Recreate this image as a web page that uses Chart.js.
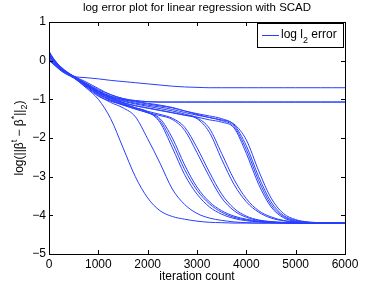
<!DOCTYPE html>
<html lang="en">
  <head>
    <meta charset="UTF-8">
    <title>log error plot</title>
    <script src="https://cdn.jsdelivr.net/npm/chart.js@4.3.0/dist/chart.umd.min.js"></script>
    <style>
      body { margin: 0; background: #fff; }
      #box { width: 382px; height: 286px; }
    </style>
  </head>
  <body>
<div id="box"><canvas id="errPlot"></canvas></div>
<script>
var iters = [0,100,250,500,750,1000,1250,1500,1750,2000,2250,2500,2750,3000,3250,3500,3750,4000,4250,4500,4750,5000,5250,5500,5750,6000];

// log l2 error curves, one per run
var runA  = [0.12,-0.02,-0.2,-0.4,-0.44,-0.47,-0.51,-0.54,-0.57,-0.6,-0.63,-0.66,-0.68,-0.69,-0.7,-0.7,-0.7,-0.7,-0.7,-0.7,-0.7,-0.7,-0.7,-0.7,-0.7,-0.7];
var runB1 = [0.2,0.02,-0.18,-0.42,-0.6,-0.78,-0.92,-1.0,-1.04,-1.06,-1.07,-1.07,-1.07,-1.07,-1.07,-1.07,-1.07,-1.07,-1.07,-1.07,-1.07,-1.07,-1.07,-1.07,-1.07,-1.07];
var runB2 = [0.05,-0.08,-0.25,-0.4,-0.55,-0.72,-0.88,-0.98,-1.03,-1.06,-1.07,-1.07,-1.07,-1.07,-1.07,-1.07,-1.07,-1.07,-1.07,-1.07,-1.07,-1.07,-1.07,-1.07,-1.07,-1.07];
var runL1 = [0.22,0.03,-0.18,-0.44,-0.7,-1.0,-1.5,-2.25,-3.0,-3.55,-3.88,-4.03,-4.1,-4.15,-4.18,-4.19,-4.2,-4.2,-4.2,-4.2,-4.2,-4.2,-4.2,-4.2,-4.2,-4.2];
var runL2 = [0.15,0.0,-0.2,-0.42,-0.65,-0.9,-1.08,-1.22,-1.45,-2.02,-2.65,-3.32,-3.72,-3.95,-4.07,-4.13,-4.17,-4.19,-4.2,-4.2,-4.2,-4.2,-4.2,-4.2,-4.2,-4.2];
var runL3a = [0.08,-0.05,-0.23,-0.43,-0.68,-0.92,-1.05,-1.14,-1.22,-1.32,-1.6,-2.25,-2.95,-3.45,-3.78,-3.97,-4.08,-4.14,-4.17,-4.19,-4.2,-4.2,-4.2,-4.2,-4.2,-4.2];
var runL3b = [0.18,0.01,-0.2,-0.41,-0.63,-0.86,-1.0,-1.12,-1.22,-1.33,-1.55,-2.12,-2.82,-3.35,-3.7,-3.92,-4.05,-4.12,-4.16,-4.18,-4.19,-4.2,-4.2,-4.2,-4.2,-4.2];
var runL3c = [0.0,-0.1,-0.26,-0.44,-0.66,-0.88,-1.03,-1.15,-1.25,-1.35,-1.5,-2.0,-2.7,-3.27,-3.65,-3.88,-4.02,-4.1,-4.15,-4.18,-4.19,-4.2,-4.2,-4.2,-4.2,-4.2];
var runM1 = [0.2,0.02,-0.19,-0.42,-0.62,-0.85,-1.02,-1.14,-1.25,-1.34,-1.42,-1.52,-1.8,-2.38,-3.0,-3.55,-3.88,-4.05,-4.13,-4.17,-4.19,-4.2,-4.2,-4.2,-4.2,-4.2];
var runM2 = [0.1,-0.04,-0.22,-0.41,-0.6,-0.8,-0.97,-1.1,-1.22,-1.31,-1.39,-1.49,-1.72,-2.25,-2.88,-3.45,-3.82,-4.02,-4.12,-4.16,-4.18,-4.2,-4.2,-4.2,-4.2,-4.2];
var runN1 = [0.12,-0.03,-0.21,-0.42,-0.61,-0.8,-0.96,-1.08,-1.16,-1.22,-1.28,-1.34,-1.41,-1.5,-1.85,-2.55,-3.2,-3.65,-3.92,-4.07,-4.14,-4.18,-4.19,-4.2,-4.2,-4.2];
var runN2 = [0.04,-0.09,-0.25,-0.43,-0.63,-0.83,-0.98,-1.09,-1.17,-1.23,-1.29,-1.35,-1.41,-1.48,-1.75,-2.4,-3.07,-3.57,-3.88,-4.04,-4.13,-4.17,-4.19,-4.2,-4.2,-4.2];
var runR1 = [0.15,0.0,-0.2,-0.42,-0.6,-0.78,-0.92,-1.01,-1.07,-1.12,-1.17,-1.22,-1.3,-1.37,-1.43,-1.5,-1.66,-2.2,-3.0,-3.65,-4.0,-4.13,-4.18,-4.2,-4.2,-4.2];
var runR2 = [0.05,-0.07,-0.24,-0.43,-0.62,-0.8,-0.94,-1.03,-1.1,-1.15,-1.2,-1.26,-1.34,-1.41,-1.47,-1.53,-1.64,-2.05,-2.85,-3.55,-3.95,-4.11,-4.17,-4.19,-4.2,-4.2];
var runR3 = [0.25,0.04,-0.17,-0.4,-0.58,-0.75,-0.88,-0.98,-1.05,-1.1,-1.15,-1.21,-1.3,-1.39,-1.47,-1.55,-1.7,-2.3,-3.1,-3.72,-4.03,-4.15,-4.19,-4.2,-4.2,-4.2];
var runR4 = [0.02,-0.1,-0.27,-0.45,-0.64,-0.82,-0.96,-1.05,-1.12,-1.18,-1.24,-1.3,-1.38,-1.46,-1.53,-1.59,-1.74,-2.4,-3.2,-3.78,-4.06,-4.16,-4.19,-4.2,-4.2,-4.2];

var runs = [runA, runB1, runB2, runL1, runL2, runL3a, runL3b, runL3c, runM1, runM2, runN1, runN2, runR1, runR2, runR3, runR4];

var xTicks = [0,1000,2000,3000,4000,5000,6000];
var yTicks = [1,0,-1,-2,-3,-4,-5];

var FONT = "'Liberation Sans', Arial, sans-serif";
var lineColor = 'rgb(40,62,255)';

var datasets = runs.map(function(r) {
  return {
    data: r.map(function(v, i) { return {x: iters[i], y: v}; }),
    borderColor: lineColor,
    borderWidth: 1,
    pointRadius: 0,
    cubicInterpolationMode: 'monotone',
    fill: false
  };
});

// MATLAB style box, inward ticks, title, legend and y label
var matlabBox = {
  id: 'matlabBox',
  afterDraw: function(chart) {
    var ctx = chart.ctx;
    var a = chart.chartArea;
    var xs = chart.scales.x, ys = chart.scales.y;
    ctx.save();
    ctx.strokeStyle = '#000';
    ctx.lineWidth = 1;
    ctx.strokeRect(Math.round(a.left) + 0.5, Math.round(a.top) + 0.5, Math.round(a.right - a.left), Math.round(a.bottom - a.top));
    ctx.beginPath();
    xTicks.forEach(function(t) {
      var px = Math.round(xs.getPixelForValue(t)) + 0.5;
      ctx.moveTo(px, a.bottom); ctx.lineTo(px, a.bottom - 4);
      ctx.moveTo(px, a.top); ctx.lineTo(px, a.top + 4);
    });
    yTicks.forEach(function(t) {
      var py = Math.round(ys.getPixelForValue(t)) + 0.5;
      ctx.moveTo(a.left, py); ctx.lineTo(a.left + 4, py);
      ctx.moveTo(a.right, py); ctx.lineTo(a.right - 4, py);
    });
    ctx.stroke();

    // title, centred over the axes
    ctx.fillStyle = '#000';
    ctx.textAlign = 'center';
    ctx.textBaseline = 'middle';
    ctx.font = '11.5px ' + FONT;
    ctx.fillText('log error plot for linear regression with SCAD', (a.left + a.right) / 2, 8);

    // legend
    var lx = 257, ly = 23, lw = 86, lh = 24;
    ctx.fillStyle = '#fff';
    ctx.fillRect(lx, ly, lw, lh);
    ctx.strokeRect(lx + 0.5, ly + 0.5, lw, lh);
    ctx.strokeStyle = lineColor;
    ctx.beginPath();
    ctx.moveTo(262, 35.5); ctx.lineTo(279, 35.5);
    ctx.stroke();
    ctx.fillStyle = '#000';
    ctx.textBaseline = 'alphabetic';
    ctx.textAlign = 'left';
    ctx.font = '12px ' + FONT;
    var tx = 281;
    ctx.fillText('log l', tx, 38);
    tx += ctx.measureText('log l').width;
    ctx.font = '9px ' + FONT;
    ctx.fillText('2', tx, 43);
    tx += ctx.measureText('2').width;
    ctx.font = '12px ' + FONT;
    ctx.fillText(' error', tx, 38);

    // y axis label with sub/superscripts
    ctx.translate(23, 138);
    ctx.rotate(-Math.PI / 2);
    var parts = [
      ['log(||\u03b2', 12, 0],
      ['t', 9, -6],
      [' \u2212 \u03b2', 12, 0],
      ['*', 9, -6],
      ['||', 12, 0],
      ['2', 9, 4],
      [')', 12, 0]
    ];
    var total = 0;
    parts.forEach(function(p) { ctx.font = p[1] + 'px ' + FONT; total += ctx.measureText(p[0]).width; });
    var cx = -total / 2;
    parts.forEach(function(p) {
      ctx.font = p[1] + 'px ' + FONT;
      ctx.fillText(p[0], cx, p[2]);
      cx += ctx.measureText(p[0]).width;
    });
    ctx.restore();
  }
};

var ctx = document.getElementById('errPlot').getContext('2d');
var errPlot = new Chart(ctx, {
  type: 'line',
  data: { datasets: datasets },
  options: {
    responsive: true,
    maintainAspectRatio: false,
    animation: false,
    layout: { padding: { left: 0, right: 37, top: 22, bottom: 0 } },
    plugins: {
      legend: { display: false },
      tooltip: { enabled: false },
      title: { display: false }
    },
    scales: {
      x: {
        type: 'linear',
        min: 0, max: 6000,
        afterBuildTicks: function(s) { s.ticks = xTicks.map(function(v) { return {value: v}; }); },
        afterFit: function(s) { s.height = 32; },
        grid: { display: false, drawTicks: false },
        border: { display: false },
        ticks: { color: '#000', font: { family: FONT, size: 12 }, padding: 3, maxRotation: 0,
                 callback: function(v) { return String(v); } },
        title: { display: true, text: 'iteration count', color: '#000', font: { family: FONT, size: 12 }, padding: { top: 0, bottom: 2 } }
      },
      y: {
        type: 'linear',
        min: -5, max: 1,
        afterBuildTicks: function(s) { s.ticks = yTicks.map(function(v) { return {value: v}; }); },
        afterFit: function(s) { s.width = 49; },
        grid: { display: false, drawTicks: false },
        border: { display: false },
        ticks: { color: '#000', font: { family: FONT, size: 12 }, padding: 3,
                 callback: function(v) { return v < 0 ? '\u2212' + Math.abs(v) : String(v); } }
      }
    }
  },
  plugins: [matlabBox]
});
</script>
  </body>
</html>
